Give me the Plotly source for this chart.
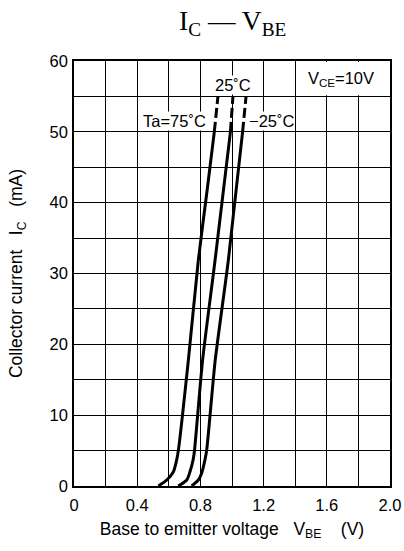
import plotly.graph_objects as go

# Collector current vs base-emitter voltage, three ambient temperatures
vbe_75 = [0.534, 0.587, 0.629, 0.650, 0.661, 0.724, 0.787, 0.844, 0.888]
ic_75 = [0, 0.85, 2.0, 3.7, 5.1, 17.8, 31.9, 42.0, 50.0]
vbe_75_ext = [0.888, 0.911]
ic_75_ext = [50.0, 55.0]

vbe_25 = [0.660, 0.714, 0.734, 0.754, 0.763, 0.814, 0.893, 0.990]
ic_25 = [0, 0.85, 2.0, 3.7, 5.1, 17.8, 31.9, 50.0]
vbe_25_ext = [0.990, 1.006]
ic_25_ext = [50.0, 55.0]

vbe_m25 = [0.745, 0.787, 0.808, 0.829, 0.840, 0.894, 0.977, 1.067]
ic_m25 = [0, 0.85, 1.8, 3.7, 5.1, 17.8, 31.9, 50.0]
vbe_m25_ext = [1.067, 1.089]
ic_m25_ext = [50.0, 55.0]

x_tick_vals = [0, 0.4, 0.8, 1.2, 1.6, 2.0]
x_tick_text = ["0", "0.4", "0.8", "1.2", "1.6", "2.0"]
y_tick_vals = [0, 10, 20, 30, 40, 50, 60]

SANS = "Liberation Sans, Arial, sans-serif"
SERIF = "Liberation Serif, Times New Roman, serif"

fig = go.Figure()

solid = [(vbe_75, ic_75), (vbe_25, ic_25), (vbe_m25, ic_m25)]
dashed = [(vbe_75_ext, ic_75_ext), (vbe_25_ext, ic_25_ext), (vbe_m25_ext, ic_m25_ext)]

for xs, ys in solid:
    fig.add_trace(go.Scatter(x=xs, y=ys, mode="lines",
                             line=dict(color="black", width=3, shape="spline", smoothing=0.6),
                             showlegend=False, hoverinfo="skip"))
for xs, ys in dashed:
    fig.add_trace(go.Scatter(x=xs, y=ys, mode="lines",
                             line=dict(color="black", width=3, dash="10px,4px"),
                             showlegend=False, hoverinfo="skip"))

# blank box behind the VCE condition label
fig.add_shape(type="rect", x0=1.415, x1=1.99, y0=55.15, y1=59.85,
              fillcolor="white", line=dict(width=0), layer="between")

lbl = dict(family=SANS, size=16.5, color="black")
fig.add_annotation(x=1.006, y=56.6, text="25˚C", showarrow=False, font=lbl,
                   bgcolor="white", borderpad=0)
fig.add_annotation(x=0.633, y=51.5, text="Ta=75˚C", showarrow=False, font=lbl,
                   bgcolor="white", borderpad=0)
fig.add_annotation(x=1.253, y=51.5, text="−25˚C", showarrow=False, font=lbl,
                   bgcolor="white", borderpad=0)
fig.add_annotation(x=1.69, y=57.5, text="V<sub>CE</sub>=10V", showarrow=False, font=lbl)

fig.add_annotation(x=0.5, xref="paper", y=1, yref="paper", yanchor="middle", yshift=39,
                   text="I<sub>C</sub> — V<sub>BE</sub>", showarrow=False,
                   font=dict(family=SERIF, size=27.5, color="black"))

grid = dict(showgrid=True, gridcolor="black", gridwidth=1)

fig.update_xaxes(range=[0, 2.0], tickvals=x_tick_vals, ticktext=x_tick_text,
                 minor=dict(dtick=0.2, tick0=0, **grid), **grid,
                 showline=True, linecolor="black", linewidth=1.5, mirror=True,
                 zeroline=False, ticks="", ticklabelstandoff=3, automargin=False,
                 tickfont=dict(family=SANS, size=16.5, color="black"),
                 title=dict(text="Base to emitter voltage\u00a0\u00a0\u00a0V<sub>BE</sub>\u00a0\u00a0\u00a0\u00a0(V)",
                            font=dict(family=SANS, size=17.5, color="black"), standoff=10))
fig.update_yaxes(range=[0, 60], tickvals=y_tick_vals,
                 minor=dict(dtick=5, tick0=0, **grid), **grid,
                 showline=True, linecolor="black", linewidth=1.5, mirror=True,
                 zeroline=False, ticks="", ticklabelstandoff=1, automargin=False,
                 tickfont=dict(family=SANS, size=16.5, color="black"),
                 title=dict(text="Collector current\u00a0\u00a0\u00a0I<sub>C</sub>\u00a0\u00a0\u00a0(mA)",
                            font=dict(family=SANS, size=17.5, color="black"), standoff=22))

fig.update_layout(width=404, height=551, margin=dict(l=74, r=14, t=61, b=65),
                  autosize=False, plot_bgcolor="white", paper_bgcolor="white")

fig.write_html("out.html", config={"responsive": False})
